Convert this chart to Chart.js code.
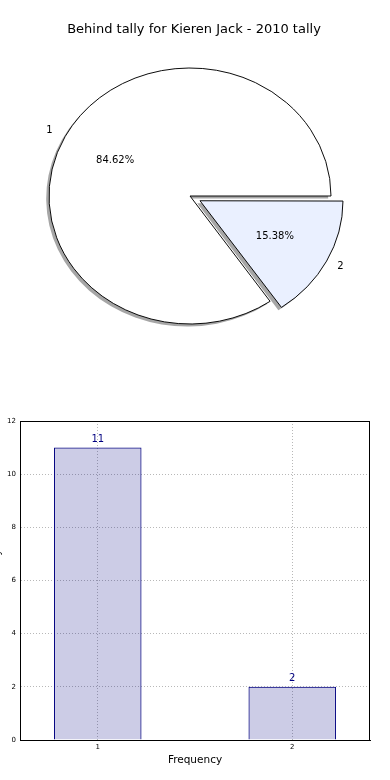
<!DOCTYPE html>
<html><head><meta charset="utf-8">
<script src="https://cdn.jsdelivr.net/npm/chart.js@4.4.0/dist/chart.umd.min.js"></script>
<style>
html,body{margin:0;padding:0;background:#fff;overflow:hidden;width:390px;height:780px;position:relative}
#pie{position:absolute;left:0;top:0}
#bar{position:absolute;left:-9px;top:390px}
</style></head><body>
<canvas id="pie" width="390" height="390"></canvas>
<canvas id="bar" width="399" height="390"></canvas>
<script>
const chartTitle = 'Behind tally for Kieren Jack - 2010 tally';
const categories = ['1', '2'];
const behindCounts = [11, 2];
const yTicks = [0, 2, 4, 6, 8, 10, 12];
const xLabel = 'Frequency';
const yLabel = 'Behind tally';
const sliceColors = ['#ffffff', '#eaf0ff'];
const explodeFrac = [0, 0.08];

const FONT = '"DejaVu Sans", sans-serif';
const total = behindCounts.reduce((a, b) => a + b, 0);
const RX = 141;
const SY = 128 / 141;
const SHADOW = { dx: -2.8, dy: 2.8 };

function vertexShift(arc) { return (arc.options.offset || 0) / 4; }
function radiusGrow(arc) {
  const fix = 1 - Math.sin(Math.min(Math.PI, arc.circumference || 0));
  return vertexShift(arc) * fix;
}

const ellipsePlugin = {
  id: 'ellipse',
  beforeDatasetsDraw(chart) {
    const ctx = chart.ctx;
    const arcs = chart.getDatasetMeta(0).data;
    const a0 = arcs[0];
    ctx.save();
    ctx.translate(a0.x, a0.y);
    ctx.scale(1, SY);
    ctx.translate(-a0.x, -a0.y);
    arcs.forEach(arc => {
      const m = (arc.startAngle + arc.endAngle) / 2;
      const d = vertexShift(arc);
      const x = arc.x + d * Math.cos(m) + SHADOW.dx;
      const y = arc.y + d * Math.sin(m) + SHADOW.dy;
      ctx.beginPath();
      ctx.moveTo(x, y);
      ctx.arc(x, y, arc.outerRadius + radiusGrow(arc), arc.startAngle, arc.endAngle);
      ctx.closePath();
      ctx.fillStyle = 'rgba(77,77,77,0.5)';
      ctx.fill();
    });
  },
  afterDatasetsDraw(chart) { chart.ctx.restore(); },
  afterDraw(chart) {
    const ctx = chart.ctx;
    const arcs = chart.getDatasetMeta(0).data;
    ctx.save();
    ctx.fillStyle = '#000';
    ctx.textBaseline = 'middle';
    arcs.forEach((arc, i) => {
      const m = (arc.startAngle + arc.endAngle) / 2;
      const c = Math.cos(m), s = Math.sin(m);
      const d = vertexShift(arc);
      const R = arc.outerRadius;
      const pt = k => [arc.x + (d + k * R) * c, arc.y + (d + k * R) * s * SY];
      ctx.font = '10px ' + FONT;
      const [px, py] = pt(0.6);
      ctx.textAlign = 'center';
      ctx.fillText((behindCounts[i] / total * 100).toFixed(2) + '%', px, py);
      const [lx, ly] = pt(1.1);
      ctx.textAlign = c < 0 ? 'right' : 'left';
      ctx.fillText(categories[i], lx, ly);
    });
    ctx.font = '13px ' + FONT;
    ctx.textAlign = 'center';
    ctx.fillText(chartTitle, 194, 30);
    ctx.restore();
  }
};

new Chart(document.getElementById('pie'), {
  type: 'pie',
  data: {
    labels: categories,
    datasets: [{
      data: behindCounts,
      backgroundColor: sliceColors,
      borderColor: '#000',
      borderWidth: 1,
      offset: ctx => explodeFrac[ctx.dataIndex] * RX * 4
    }]
  },
  options: {
    responsive: false,
    animation: false,
    events: [],
    rotation: 90 + 360 * (total - behindCounts[0]) / total,
    radius: RX,
    layout: { padding: { left: 0, right: 10, top: 2, bottom: 0 } },
    plugins: { legend: { display: false }, tooltip: { enabled: false }, title: { display: false } }
  },
  plugins: [ellipsePlugin]
});

const barExtras = {
  id: 'barExtras',
  afterDraw(chart) {
    const ctx = chart.ctx;
    const a = chart.chartArea;
    ctx.save();
    ctx.strokeStyle = '#000';
    ctx.lineWidth = 1;
    ctx.beginPath();
    const t = Math.round(a.top) + 0.5, r = Math.round(a.right) - 0.5;
    ctx.moveTo(Math.round(a.left), t);
    ctx.lineTo(r + 0.5, t);
    ctx.moveTo(r, t);
    ctx.lineTo(r, Math.round(a.bottom));
    ctx.stroke();
    ctx.fillStyle = '#000080';
    ctx.font = '10px ' + FONT;
    ctx.textAlign = 'center';
    ctx.textBaseline = 'middle';
    chart.getDatasetMeta(0).data.forEach((bar, i) => {
      ctx.fillText(String(behindCounts[i]), bar.x, bar.y - 8);
    });
    ctx.restore();
  }
};

new Chart(document.getElementById('bar'), {
  type: 'bar',
  data: {
    datasets: [{
      data: categories.map((c, i) => ({ x: +c, y: behindCounts[i] })),
      backgroundColor: 'rgba(0,0,128,0.2)',
      borderColor: '#000080',
      borderWidth: 1,
      barPercentage: 0.45,
      categoryPercentage: 1
    }]
  },
  options: {
    responsive: false,
    animation: false,
    events: [],
    layout: { padding: { left: 0, right: 20, top: 31, bottom: 10 } },
    plugins: { legend: { display: false }, tooltip: { enabled: false } },
    scales: {
      x: {
        type: 'linear', min: 0.6, max: 2.4, z: 1, offset: false,
        afterBuildTicks: s => { s.ticks = categories.map(c => ({ value: +c })); },
        afterFit: s => { s.height = 30; },
        grid: { color: '#b8b8b8', lineWidth: 1, drawTicks: false, offset: false },
        border: { display: true, color: '#000', width: 1, dash: [1, 2] },
        ticks: { color: '#000', font: { family: FONT, size: 7 }, padding: 3, callback: v => String(v) },
        title: { display: true, text: xLabel, color: '#000', font: { family: FONT, size: 10.5 }, padding: { top: 0, bottom: 3 } }
      },
      y: {
        type: 'linear', min: yTicks[0], max: yTicks[yTicks.length - 1], z: 1,
        afterBuildTicks: s => { s.ticks = yTicks.map(v => ({ value: v })); },
        afterFit: s => { s.width = 29; },
        grid: { color: '#b8b8b8', lineWidth: 1, drawTicks: false },
        border: { display: true, color: '#000', width: 1, dash: [1, 2] },
        ticks: { color: '#000', font: { family: FONT, size: 7 }, padding: 4 },
        title: { display: true, text: yLabel, color: '#000', font: { family: FONT, size: 10.5 }, padding: 0 }
      }
    }
  },
  plugins: [barExtras]
});
</script>
</body></html>
